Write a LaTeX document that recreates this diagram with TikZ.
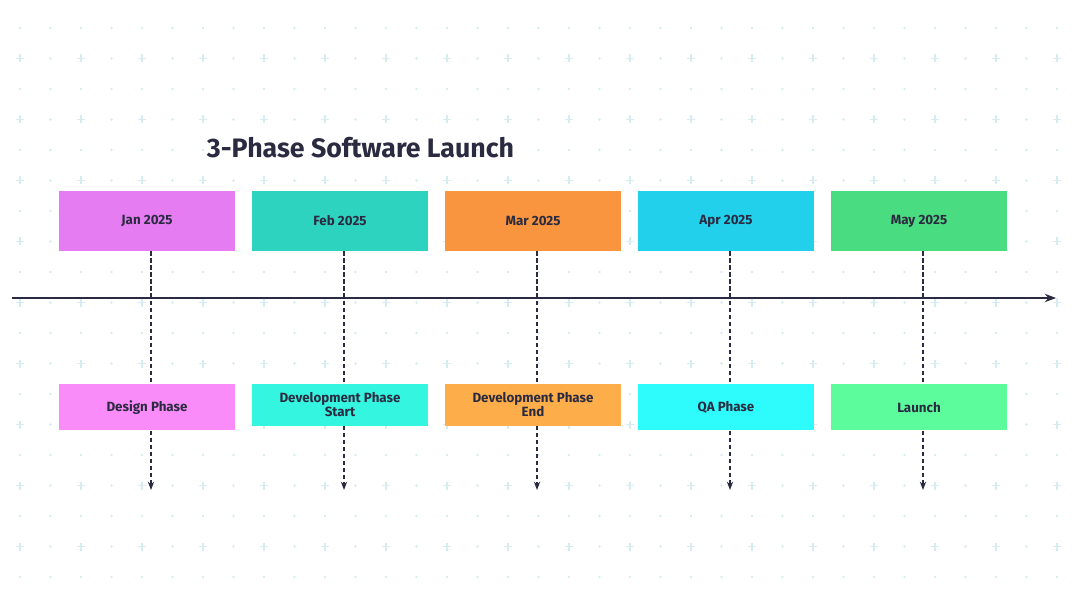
\documentclass[tikz,border=0pt]{standalone}
\usepackage{fontspec}
\setmainfont{Fira Sans}
\usetikzlibrary{arrows.meta}
\definecolor{ink}{HTML}{2A2A40}
\definecolor{gridc}{HTML}{D6ECF0}
\definecolor{janc}{HTML}{E57CF2}
\definecolor{febc}{HTML}{2ED3C0}
\definecolor{marc}{HTML}{F9953F}
\definecolor{aprc}{HTML}{22D0EC}
\definecolor{mayc}{HTML}{4ADC80}
\definecolor{janl}{HTML}{FA8CF9}
\definecolor{febl}{HTML}{33F5E0}
\definecolor{marl}{HTML}{FDAE4A}
\definecolor{aprl}{HTML}{2EFBFB}
\definecolor{mayl}{HTML}{5CFC9C}
\tikzset{
  datebox/.style={fill=#1,minimum width=4.4cm,minimum height=1.5cm,text=ink,font=\bfseries\fontsize{9.5}{11}\selectfont,align=center},
  eventbox/.style={fill=#1,minimum width=4.4cm,text=ink,font=\bfseries\fontsize{9.5}{10}\selectfont,align=center,anchor=north,inner ysep=6pt},
  guide/.style={ink,densely dashed,line width=0.8pt},
}
\begin{document}
\begin{tikzpicture}[x=0.025cm,y=-0.025cm]
	\useasboundingbox (0,0) rectangle (1080,610);
	% background grid
	\foreach \r in {0,...,18}{
	  \foreach \c in {0,...,34}{
	    \pgfmathsetmacro{\px}{20+30.5*\c}
	    \pgfmathsetmacro{\py}{28+30.5*\r}
	    \pgfmathtruncatemacro{\isplus}{(mod(\r,2)==1)*(mod(\c,2)==0)}
	    \ifnum\isplus=1
	      \draw[gridc,line width=1pt] (\px-4,\py) -- (\px+4,\py) (\px,\py-4) -- (\px,\py+4);
	    \else
	      \fill[gridc] (\px,\py) circle (1.3);
	    \fi
	  }
	}
	\node[text=ink,font=\bfseries\fontsize{19}{22}\selectfont,anchor=west] (title) at (202,148) {3-Phase Software Launch};
	% timeline axis
	\coordinate (axs) at (12,298);
	\coordinate (axe) at (1056,298);
	\draw[ink,line width=1pt,-{Stealth[length=8pt]}] (axs) -- (axe);
	% dates
	\node[datebox=janc] (jan) at (147,221) {Jan 2025};
	\node[datebox=febc] (feb) at (340,221) {Feb 2025};
	\node[datebox=marc] (mar) at (533,221) {Mar 2025};
	\node[datebox=aprc] (apr) at (726,221) {Apr 2025};
	\node[datebox=mayc] (may) at (919,221) {May 2025};
	% events
	\node[eventbox=janl,minimum height=1.15cm] (design) at (147,384) {Design Phase};
	\node[eventbox=febl] (devs) at (340,384) {Development Phase\\Start};
	\node[eventbox=marl] (deve) at (533,384) {Development Phase\\End};
	\node[eventbox=aprl,minimum height=1.15cm] (qa) at (726,384) {QA Phase};
	\node[eventbox=mayl,minimum height=1.15cm] (launch) at (919,384) {Launch};
	% guides
	\foreach \d/\e in {jan/design,feb/devs,mar/deve,apr/qa,may/launch}{
	  \draw[guide] ([xshift=4*0.025cm]\d.south) -- ([xshift=4*0.025cm]\e.north);
	  \coordinate (\e-end) at ([xshift=4*0.025cm]\e.north |- 0,490);
	  \draw[guide,-{Stealth[length=6pt]}] ([xshift=4*0.025cm]\e.south) -- (\e-end);
	}
\end{tikzpicture}
\end{document}
